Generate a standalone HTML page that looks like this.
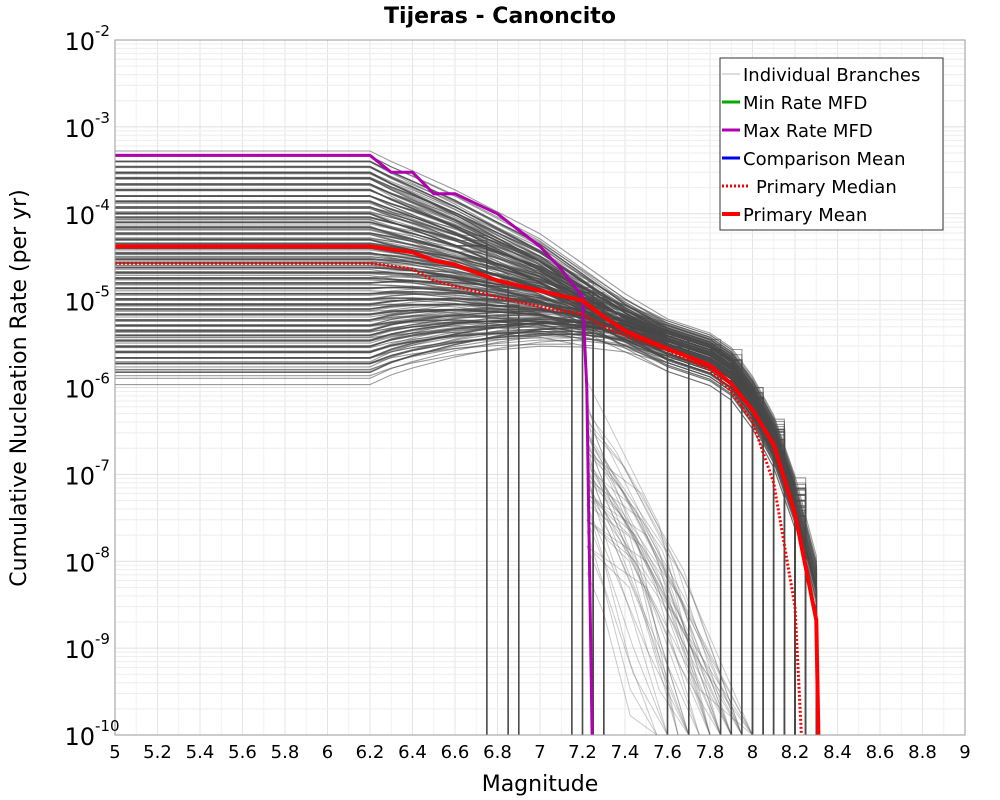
<!DOCTYPE html>
<html><head><meta charset="utf-8">
<style>
html,body{margin:0;padding:0;background:#fff;}
svg{display:block;font-family:"DejaVu Sans","Liberation Sans",sans-serif;}
</style></head>
<body>
<svg id="chart" width="1000" height="800" viewBox="0 0 1000 800">
  <text x="500" y="23" text-anchor="middle" font-size="22" font-weight="bold">Tijeras - Canoncito</text>
  <g id="grid"></g>
  <g id="branches"></g>
  <g id="series"></g>
  <rect x="115" y="40" width="850" height="695" fill="none" stroke="#999" stroke-width="1"/>
  <g id="axes"></g>
  <text x="540" y="791" text-anchor="middle" font-size="22">Magnitude</text>
  <text transform="translate(26,388) rotate(-90)" text-anchor="middle" font-size="22">Cumulative Nucleation Rate (per yr)</text>
  <g>
    <rect x="720" y="58" width="223" height="172" fill="#fff" stroke="#333" stroke-width="1"/>
    <g><line x1="722" y1="74" x2="740" y2="74" stroke="#bbb" stroke-width="1"/><text x="743" y="81" font-size="18">Individual Branches</text></g>
    <g><line x1="722" y1="102" x2="740" y2="102" stroke="#00aa00" stroke-width="3"/><text x="743" y="109" font-size="18">Min Rate MFD</text></g>
    <g><line x1="722" y1="130" x2="740" y2="130" stroke="#b000b0" stroke-width="3"/><text x="743" y="137" font-size="18">Max Rate MFD</text></g>
    <g><line x1="722" y1="158" x2="740" y2="158" stroke="#0000ee" stroke-width="3"/><text x="743" y="165" font-size="18">Comparison Mean</text></g>
    <g><line x1="722" y1="186" x2="750" y2="186" stroke="#f00" stroke-width="3" stroke-dasharray="2,2"/><text x="756" y="193" font-size="18">Primary Median</text></g>
    <g><line x1="722" y1="214" x2="740" y2="214" stroke="#f00" stroke-width="4"/><text x="743" y="221" font-size="18">Primary Mean</text></g>
  </g>
</svg>
<script>
const xTicks=[5,5.2,5.4,5.6,5.8,6,6.2,6.4,6.6,6.8,7,7.2,7.4,7.6,7.8,8,8.2,8.4,8.6,8.8,9];
const xTickLabels=["5","5.2","5.4","5.6","5.8","6","6.2","6.4","6.6","6.8","7","7.2","7.4","7.6","7.8","8","8.2","8.4","8.6","8.8","9"];
const yExps=[-2,-3,-4,-5,-6,-7,-8,-9,-10];

const meanMags=[5,6.2,6.4,6.5,6.6,6.8,7.0,7.2,7.3,7.4,7.6,7.8,7.9,8.0,8.1,8.2,8.3,8.31];
const meanRates=[4.2e-5,4.2e-5,3.6e-5,2.9e-5,2.6e-5,1.7e-5,1.3e-5,1.0e-5,6.5e-6,4.5e-6,2.8e-6,1.8e-6,1.1e-6,5.5e-7,2.2e-7,3.5e-8,2.1e-9,1e-10];
const medianMags=[5,6.2,6.4,6.5,6.8,7.0,7.2,7.3,7.4,7.6,7.8,7.9,8.0,8.1,8.2,8.23];
const medianRates=[2.7e-5,2.7e-5,2.3e-5,1.7e-5,1.1e-5,8.5e-6,7e-6,5e-6,4e-6,2.7e-6,1.6e-6,9e-7,4e-7,8e-8,3e-9,1e-10];
const maxMags=[5,6.2,6.3,6.4,6.5,6.6,6.8,7.0,7.1,7.2,7.22,7.245];
const maxRates=[4.7e-4,4.7e-4,3.0e-4,3.0e-4,1.7e-4,1.7e-4,1.0e-4,4.2e-5,2.3e-5,1.1e-5,1e-6,1e-10];

// branch data
const profileMags=[6.2,6.3,6.4,6.6,6.8,7.0,7.2,7.4,7.6,7.8,7.9,8.0,8.1,8.2,8.3];
const convRates=[2e-5,1.7e-5,1.5e-5,1.2e-5,9.5e-6,8e-6,6e-6,4.5e-6,3.2e-6,2.2e-6,1.5e-6,7e-7,2.5e-7,5e-8,6e-9];
const convWeights=[0,0.1,0.18,0.33,0.48,0.62,0.78,0.92,1,1,1,1,1,1,1];
const branchStarts=[4e-4,3.5e-4,3e-4,2.6e-4,2.2e-4,1.9e-4,1.6e-4,1.4e-4,1.2e-4,1e-4,9e-5,8e-5,7e-5,6e-5,5e-5,4.5e-5,4e-5,3.5e-5,3e-5,2.7e-5,2.4e-5,2.1e-5,1.8e-5,1.6e-5,1.4e-5,1.2e-5,1.05e-5,9e-6,8e-6,7e-6,6e-6,5.2e-6,4.5e-6,4e-6,3.5e-6,3e-6,2.6e-6,2.2e-6,1.9e-6,1.5e-6];
const branchShift=[1.6,1.2,0.8,1.4,1.0,0.7,1.3,0.9,1.1,0.6,1.5,1.0,0.8,1.2,0.7,1.3,0.9,1.1,1.4,0.6,1.0,1.2,0.8,1.5,0.9,1.1,0.7,1.3,1.0,0.8,1.2,0.6,1.4,0.9,1.1,1.0,0.7,1.3,0.8,1.2];
const branchCutoffs=[8.3,8.25,7.25,8.2,8.15,8.1,8.3,7.2,8.05,8.2,8.25,6.75,8.1,7.9,8.3,8.0,8.2,7.3,8.15,8.25,6.85,8.1,8.3,7.95,8.2,8.05,6.9,8.15,7.6,8.3,8.0,7.25,8.2,7.7,8.1,8.25,7.15,7.85,8.3,7.3];

const X=m=>115+(m-5)*212.5;
const Y=r=>40+(-2-Math.log10(r))*86.875;
const NS="http://www.w3.org/2000/svg";
function mk(tag,attrs,parent){const e=document.createElementNS(NS,tag);for(const k in attrs)e.setAttribute(k,attrs[k]);parent.appendChild(e);return e;}
function poly(mags,rates){return mags.map((m,i)=>X(m).toFixed(1)+","+Math.min(735,Y(Math.max(rates[i],1e-10))).toFixed(1)).join(" ");}

const grid=document.getElementById('grid');
for(let i=0;i<=40;i++){const m=5+i*0.1;const ln=mk('line',{x1:X(m),x2:X(m),y1:40,y2:735,stroke:i%2?'#f2f2f2':'#e4e4e4','stroke-width':1},grid);

}
for(let e=-10;e<-2;e++){for(let k=1;k<10;k++){const y=Y(k*Math.pow(10,e));const ln=mk('line',{x1:115,x2:965,y1:y,y2:y,stroke:k===1?'#e0e0e0':'#eeeeee','stroke-width':1},grid);

}}

const bg=document.getElementById('branches');
// light tails region (drawn first, underneath)
const tailStartMags=[7.25,7.3,7.35,7.3,7.4,7.28,7.45,7.33,7.5,7.38,7.3,7.42,7.27,7.36,7.48,7.32];
const tailStartRates=[1e-7,8e-8,5e-8,3e-8,6e-8,1.5e-8,2e-8,4e-8,1e-8,7e-8,5e-9,1e-8,1.2e-7,9e-8,3e-8,2e-7];
const tailEndMags=[7.9,7.8,8.0,7.7,7.95,7.6,7.85,7.75,8.0,7.9,7.55,7.7,7.65,7.85,7.95,7.8];
tailStartMags.forEach((m,i)=>{
  [1,0.5,2].forEach(f=>{
    const q=mk('polyline',{points:poly([7.22,m,(m+tailEndMags[i])/2,tailEndMags[i]],[tailStartRates[i]*f*3,tailStartRates[i]*f,tailStartRates[i]*f/15,1e-10]),fill:'none',stroke:'rgba(80,80,80,0.3)','stroke-width':1},bg);
    
    
  });
});
branchStarts.forEach((s,b)=>{
  const mags=[5],rates=[s];
  profileMags.forEach((m,i)=>{
    if(m>branchCutoffs[b])return;
    const w=convWeights[i];
    const c=convRates[i]*Math.pow(branchShift[b],0.8);
    mags.push(m);rates.push(Math.pow(10,Math.log10(s)*(1-w)+Math.log10(c)*w));
  });
  const last=rates[rates.length-1];
  mags.push(branchCutoffs[b]);rates.push(last);
  mags.push(branchCutoffs[b]);rates.push(1e-10);
  [0.72,0.85,1,1.15,1.32].forEach(f=>{
    const q=mk('polyline',{points:poly(mags,rates.map((r,i)=>i===rates.length-1?r:r*f)),fill:'none',stroke:f===1?'rgba(70,70,70,0.85)':'rgba(75,75,75,0.55)','stroke-width':f===1?1.6:1.1},bg);
    
    
  });
});

const sg=document.getElementById('series');
let p=mk('polyline',{points:poly(maxMags,maxRates),fill:'none',stroke:'#b000b0','stroke-width':3},sg);


p=mk('polyline',{points:poly(medianMags,medianRates),fill:'none',stroke:'#f00','stroke-width':3,'stroke-dasharray':'2,2'},sg);


p=mk('polyline',{points:poly(meanMags,meanRates),fill:'none',stroke:'#f00','stroke-width':4},sg);



const ax=document.getElementById('axes');
xTicks.forEach((m,i)=>{
  const t=mk('text',{x:X(m),y:758,'text-anchor':'middle','font-size':18},ax);
  t.textContent=xTickLabels[i];
  
  
});
yExps.forEach(e=>{
  const y=Y(Math.pow(10,e));
  const t=mk('text',{x:95,y:y+10,'text-anchor':'end','font-size':24},ax);
  t.textContent='10';
  
  
  const s=mk('text',{x:95,y:y-4,'font-size':15},ax);
  s.textContent=String(e);
  
  
});
</script>
</body></html>
